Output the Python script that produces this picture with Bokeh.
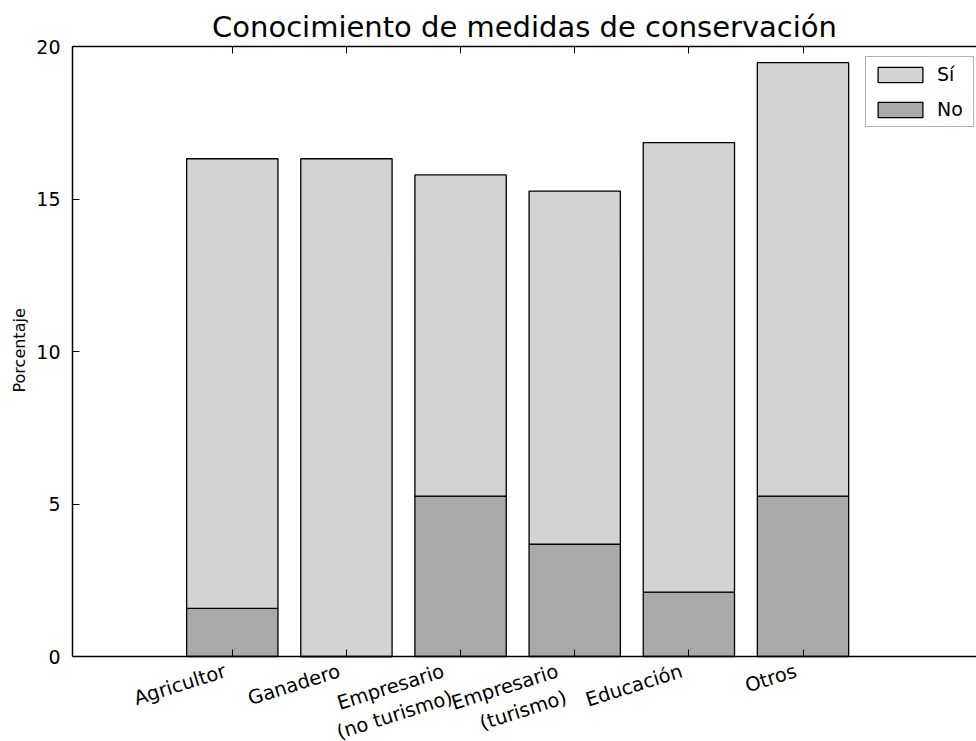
from bokeh.plotting import figure
from bokeh.models import (ColumnDataSource, Range1d, FixedTicker, LinearAxis,
                          Legend, LegendItem, Title)
from bokeh.core.properties import value
from bokeh.embed import file_html
from bokeh.resources import INLINE

# ---- data ----
categories = ["Agricultor", "Ganadero", "Empresario\n(no turismo)",
              "Empresario\n(turismo)", "Educación", "Otros"]
no_values = [1.58, 0.0, 5.26, 3.68, 2.11, 5.26]
si_values = [14.74, 16.32, 10.53, 11.58, 14.74, 14.21]
y_ticks = [0, 5, 10, 15, 20]
series_labels = ["No", "Sí"]
title_text = "Conocimiento de medidas de conservación"
y_label = "Porcentaje"

FONT = "DejaVu Sans"
NO_COLOR = "#a9a9a9"
SI_COLOR = "#d3d3d3"

# ---- layout geometry (pixels) ----
W, H = 976, 741
LEFT, TOP = 72, 46
AXIS_PX = 610          # pixel height of the 0..20 value span
Y_MAX = 20
y_start = -Y_MAX * (H - TOP - AXIS_PX) / AXIS_PX   # room for category labels
YLABEL_HALF_LEN = 41   # half the length of the rotated y-axis title
ylabel_offset = H - (TOP + AXIS_PX // 2) - YLABEL_HALF_LEN

positions = list(range(len(categories)))
source = ColumnDataSource(dict(x=positions, no=no_values, si=si_values))

p = figure(width=W, height=H,
           x_range=Range1d(-1.4, 6.52), y_range=Range1d(y_start, Y_MAX),
           output_backend="svg", toolbar_location=None,
           min_border_left=LEFT, min_border_right=0,
           min_border_top=TOP, min_border_bottom=0)
p.outline_line_color = None
p.grid.visible = False
p.background_fill_color = "white"
p.border_fill_color = "white"

renderers = p.vbar_stack(["no", "si"], x="x", width=0.8, source=source,
                         fill_color=[NO_COLOR, SI_COLOR],
                         line_color="black", line_width=1.3)


def style_axis(ax):
    ax.axis_line_color = "black"
    ax.axis_line_width = 1.5
    ax.major_tick_in = 7
    ax.major_tick_out = 0
    ax.major_tick_line_color = "black"
    ax.major_tick_line_width = 1
    ax.minor_tick_line_color = None


# left axis, limited to the value span
yax = p.yaxis[0]
yax.ticker = FixedTicker(ticks=y_ticks)
yax.bounds = (0, Y_MAX)
style_axis(yax)
yax.major_label_text_font = FONT
yax.major_label_text_font_size = "19px"
yax.major_label_text_color = "black"
yax.major_label_standoff = 12

# y-axis title, centred on the 0..20 span
ytitle = Title(text=y_label, align="left", offset=ylabel_offset,
               vertical_align="bottom", standoff=10,
               text_font=FONT, text_font_size="16px",
               text_font_style="normal", text_color="black")
p.add_layout(ytitle, "left")

# bottom axis drawn at y = 0, ticks only
xax = p.xaxis[0]
xax.ticker = FixedTicker(ticks=positions)
xax.fixed_location = 0
style_axis(xax)
xax.major_label_text_color = None

# top axis (mirrored ticks)
top_axis = LinearAxis(ticker=FixedTicker(ticks=positions))
style_axis(top_axis)
top_axis.major_label_text_color = None
p.add_layout(top_axis, "above")

# rotated category labels under the y = 0 axis
line_counts = [c.count("\n") + 1 for c in categories]
label_src = ColumnDataSource(dict(
    x=positions, y=[0] * len(positions), text=categories,
    xoff=[-0.5 - 10 * n for n in line_counts]))
p.text(x="x", y="y", text="text", source=label_src,
       angle=17.5, angle_units="deg", text_align="right", text_baseline="top",
       x_offset="xoff", y_offset=3, text_font=value(FONT),
       text_font_size="19.5px", text_color="black")

# title
p.title.text = title_text
p.title.align = "center"
p.title.text_font = FONT
p.title.text_font_size = "29px"
p.title.text_font_style = "normal"
p.title.text_color = "black"
p.title.standoff = 5

# legend
legend = Legend(items=[LegendItem(label=series_labels[1], renderers=[renderers[1]]),
                       LegendItem(label=series_labels[0], renderers=[renderers[0]])],
                location=(793, 614), orientation="vertical",
                label_text_font=FONT, label_text_font_size="19px",
                label_text_color="black",
                glyph_width=56, glyph_height=19, label_standoff=9,
                label_width=30, spacing=13, padding=6, margin=0,
                border_line_color="#666666", border_line_width=1,
                background_fill_color="white", background_fill_alpha=1)
p.add_layout(legend)

open("out.html", "w").write(file_html(p, INLINE))
